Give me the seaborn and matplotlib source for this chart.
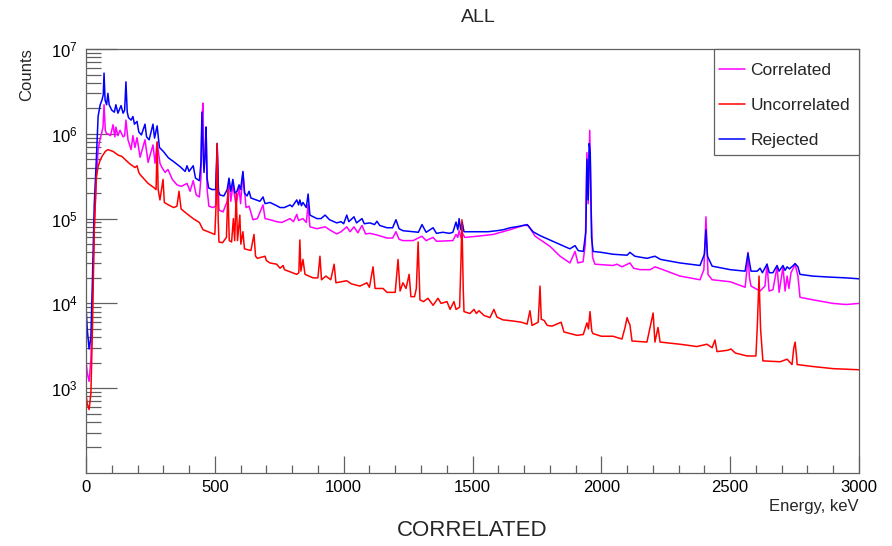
import numpy as np
import pandas as pd
import matplotlib
matplotlib.use("Agg")
import matplotlib.pyplot as plt
import seaborn as sns
from matplotlib.patches import Rectangle
from matplotlib.ticker import FixedLocator, MultipleLocator, LogLocator, NullFormatter

# ---------------- data ----------------
rej_energy = [0, 5, 12, 19, 25, 32, 40, 47, 55, 62, 67, 70, 74, 80, 85, 90, 100, 110, 116, 124,
              136, 144, 150, 155, 160, 165, 175, 182, 188, 198, 205, 215, 229, 235, 245, 260, 266,
              276, 285, 300, 320, 340, 365, 385, 392, 400, 416, 425, 440, 446, 450, 455, 458, 463,
              466, 470, 476, 490, 503, 509, 514, 520, 535, 548, 555, 562, 570, 578, 586, 594, 600,
              609, 615, 625, 633, 640, 660, 675, 687, 695, 714, 740, 753, 770, 792, 800, 818, 825,
              830, 836, 842, 855, 862, 869, 896, 912, 928, 945, 973, 990, 1000, 1012, 1020, 1040,
              1050, 1071, 1080, 1102, 1120, 1129, 1140, 1168, 1190, 1203, 1215, 1230, 1269, 1290,
              1304, 1320, 1347, 1360, 1385, 1410, 1424, 1436, 1443, 1448, 1454, 1460, 1467, 1480,
              1520, 1560, 1595, 1620, 1646, 1680, 1712, 1735, 1762, 1812, 1850, 1878, 1898, 1910,
              1930, 1940, 1944, 1949, 1953, 1957, 1962, 1968, 2000, 2045, 2100, 2111, 2130, 2177,
              2208, 2230, 2305, 2383, 2400, 2406, 2412, 2430, 2500, 2558, 2569, 2581, 2605, 2616,
              2625, 2643, 2652, 2666, 2682, 2690, 2705, 2713, 2721, 2730, 2745, 2752, 2763, 2771,
              2820, 2876, 2950, 3000]
rej_counts = [9.1e3, 4.9e3, 2.9e3, 4.0e3, 1.9e4, 1.45e5, 4.9e5, 1.6e6, 2.2e6, 2.5e6, 2.9e6, 5.2e6,
              2.5e6, 2.2e6, 3.0e6, 2.2e6, 1.9e6, 1.8e6, 2.2e6, 1.75e6, 2.15e6, 1.75e6, 1.9e6, 4.1e6,
              1.8e6, 1.55e6, 1.45e6, 1.6e6, 1.3e6, 1.4e6, 1.05e6, 9.7e5, 1.3e6, 9.2e5, 8.5e5, 1.3e6,
              8.9e5, 1.24e6, 6.9e5, 6.2e5, 5.2e5, 4.7e5, 4.1e5, 3.6e5, 4.2e5, 3.6e5, 4.2e5, 3.0e5,
              2.8e5, 4.5e5, 1.8e6, 5.5e5, 3.5e5, 6.0e5, 1.2e6, 3.0e5, 2.3e5, 2.2e5, 2.2e5, 7.7e5,
              2.1e5, 1.9e5, 1.85e5, 2.2e5, 3.0e5, 2.1e5, 2.9e5, 2.0e5, 2.1e5, 2.5e5, 2.2e5, 3.6e5,
              2.0e5, 1.85e5, 2.1e5, 1.75e5, 1.66e5, 1.6e5, 1.8e5, 1.5e5, 1.55e5, 1.42e5, 1.35e5,
              1.35e5, 1.45e5, 1.38e5, 1.66e5, 1.45e5, 1.66e5, 1.42e5, 1.55e5, 1.35e5, 1.95e5, 1.1e5,
              1.0e5, 1.0e5, 1.1e5, 9.7e4, 8.9e4, 9.2e4, 8.7e4, 1.1e5, 9.2e4, 1.05e5, 8.9e4, 1.0e5,
              8.7e4, 8.9e4, 8.5e4, 9.3e4, 8.3e4, 7.8e4, 7.8e4, 9.7e4, 7.6e4, 7.2e4, 7.0e4, 6.9e4,
              8.5e4, 6.9e4, 7.8e4, 6.7e4, 6.9e4, 6.7e4, 6.9e4, 9.1e4, 7.4e4, 1.0e5, 7.4e4, 9.1e4,
              7.0e4, 7.0e4, 7.0e4, 7.0e4, 7.2e4, 7.4e4, 7.8e4, 8.1e4, 8.5e4, 7.0e4, 6.3e4, 5.4e4,
              4.8e4, 4.4e4, 4.8e4, 4.2e4, 4.1e4, 7.0e4, 5.0e5, 1.66e5, 7.7e5, 6.0e5, 6.0e4, 4.1e4,
              4.0e4, 3.8e4, 3.7e4, 4.0e4, 3.6e4, 3.4e4, 3.6e4, 3.3e4, 3.0e4, 2.8e4, 3.8e4, 7.4e4,
              3.6e4, 2.75e4, 2.5e4, 2.4e4, 3.9e4, 2.4e4, 2.4e4, 2.6e4, 2.3e4, 2.9e4, 2.3e4, 2.3e4,
              2.8e4, 2.4e4, 2.8e4, 2.45e4, 2.7e4, 2.55e4, 2.8e4, 2.95e4, 2.7e4, 2.2e4, 2.1e4,
              2.05e4, 2.0e4, 1.95e4]

cor_energy = [0, 5, 12, 19, 25, 32, 40, 47, 54, 60, 66, 70, 75, 80, 85, 95, 105, 112, 116, 124,
              132, 144, 150, 155, 163, 175, 182, 190, 198, 210, 229, 241, 260, 268, 276, 287, 295,
              307, 318, 335, 353, 370, 392, 404, 416, 428, 440, 446, 450, 454, 458, 463, 466, 470,
              477, 493, 503, 509, 516, 532, 548, 555, 562, 570, 582, 594, 600, 609, 621, 633, 648,
              665, 687, 695, 714, 740, 760, 792, 805, 818, 825, 842, 855, 862, 869, 896, 928, 945,
              973, 990, 1012, 1025, 1040, 1055, 1071, 1085, 1102, 1130, 1168, 1190, 1203, 1215,
              1230, 1269, 1304, 1320, 1347, 1360, 1424, 1436, 1443, 1448, 1455, 1460, 1470, 1520,
              1580, 1646, 1697, 1716, 1743, 1801, 1840, 1878, 1898, 1909, 1929, 1938, 1944, 1949,
              1955, 1960, 1966, 1975, 2045, 2061, 2080, 2111, 2125, 2150, 2190, 2208, 2239, 2305,
              2383, 2398, 2406, 2414, 2430, 2500, 2558, 2565, 2569, 2575, 2581, 2616, 2635, 2643,
              2651, 2666, 2682, 2690, 2705, 2713, 2721, 2728, 2736, 2745, 2752, 2763, 2771, 2822,
              2899, 2950, 3000]
cor_counts = [2.1e3, 1.5e3, 1.2e3, 2.2e3, 1.0e4, 7.4e4, 2.9e5, 6.5e5, 8.5e5, 1.0e6, 1.2e6, 2.2e6,
              1.1e6, 1.0e6, 1.0e6, 9.5e5, 1.28e6, 9.2e5, 1.2e6, 9.5e5, 1.1e6, 9.2e5, 9.5e5, 1.45e6,
              8.5e5, 6.5e5, 9.5e5, 6.9e5, 9.0e5, 5.3e5, 8.5e5, 4.6e5, 7.4e5, 4.5e5, 8.0e5, 4.5e5,
              4.0e5, 3.5e5, 3.8e5, 2.9e5, 2.5e5, 2.4e5, 2.6e5, 2.1e5, 2.8e5, 1.9e5, 1.8e5, 3.0e5,
              1.5e6, 2.3e6, 4.0e5, 6.0e5, 1.2e6, 2.2e5, 1.4e5, 1.35e5, 1.4e5, 7.4e5, 1.26e5, 1.2e5,
              1.6e5, 2.9e5, 1.6e5, 2.5e5, 1.45e5, 2.3e5, 1.5e5, 3.5e5, 1.35e5, 1.4e5, 9.7e4, 1.0e5,
              1.45e5, 1.0e5, 9.7e4, 9.2e4, 9.0e4, 1.0e5, 9.2e4, 1.12e5, 9.5e4, 1.0e5, 9.0e4, 1.45e5,
              8.0e4, 7.6e4, 8.0e4, 7.4e4, 6.6e4, 7.0e4, 8.0e4, 7.0e4, 8.0e4, 6.8e4, 8.3e4, 6.6e4,
              6.7e4, 6.4e4, 5.9e4, 5.9e4, 7.0e4, 5.7e4, 5.5e4, 5.5e4, 6.2e4, 5.5e4, 6.0e4, 5.4e4,
              5.5e4, 6.5e4, 6.0e4, 7.2e4, 6.0e4, 6.8e4, 6.0e4, 6.2e4, 6.5e4, 7.4e4, 8.3e4, 8.3e4,
              6.2e4, 4.7e4, 3.6e4, 3.0e4, 4.1e4, 3.0e4, 3.1e4, 5.0e4, 6.0e5, 1.5e5, 1.1e6, 1.5e5,
              3.5e4, 2.9e4, 2.8e4, 2.9e4, 2.7e4, 3.0e4, 2.6e4, 2.5e4, 2.5e4, 2.7e4, 2.5e4, 2.1e4,
              1.9e4, 2.5e4, 1.05e5, 2.2e4, 1.9e4, 1.8e4, 1.55e4, 2.5e4, 4.0e4, 2.0e4, 1.6e4, 1.4e4,
              1.6e4, 2.9e4, 1.4e4, 1.45e4, 2.7e4, 1.35e4, 2.7e4, 1.4e4, 2.1e4, 1.5e4, 2.3e4, 2.6e4,
              2.9e4, 2.1e4, 1.18e4, 1.1e4, 1.0e4, 9.7e3, 1.0e4]

unc_energy = [0, 5, 12, 19, 25, 32, 40, 47, 55, 62, 75, 85, 105, 125, 140, 151, 171, 190, 198, 205,
              210, 241, 265, 272, 276, 280, 287, 299, 304, 320, 340, 353, 361, 369, 390, 416, 440,
              454, 489, 500, 505, 509, 513, 516, 530, 545, 551, 556, 565, 572, 577, 583, 588, 597,
              601, 609, 615, 640, 652, 658, 665, 695, 700, 714, 740, 753, 765, 770, 818, 826, 830,
              834, 842, 850, 881, 900, 908, 914, 931, 950, 963, 970, 1012, 1030, 1063, 1090, 1100,
              1114, 1122, 1153, 1168, 1200, 1211, 1219, 1230, 1242, 1254, 1261, 1275, 1282, 1289,
              1296, 1310, 1327, 1347, 1366, 1378, 1401, 1413, 1428, 1436, 1450, 1455, 1459, 1464,
              1467, 1490, 1506, 1515, 1525, 1545, 1568, 1583, 1595, 1618, 1657, 1690, 1712, 1723,
              1731, 1755, 1762, 1767, 1778, 1790, 1809, 1844, 1855, 1906, 1930, 1944, 1950, 1956,
              1963, 1968, 2000, 2045, 2080, 2092, 2100, 2106, 2111, 2119, 2177, 2201, 2208, 2220,
              2228, 2305, 2371, 2410, 2430, 2441, 2449, 2490, 2503, 2520, 2565, 2600, 2606, 2612,
              2618, 2627, 2694, 2721, 2740, 2747, 2752, 2757, 2760, 2822, 2900, 3000]
unc_counts = [850, 650, 560, 870, 5.0e3, 7.4e4, 3.1e5, 4.1e5, 4.9e5, 5.4e5, 6.2e5, 6.5e5, 6.2e5,
              5.6e5, 5.4e5, 5.0e5, 4.4e5, 4.0e5, 4.2e5, 3.5e5, 3.3e5, 2.6e5, 2.3e5, 2.2e5, 8.0e5,
              2.2e5, 1.66e5, 2.9e5, 1.55e5, 1.45e5, 1.35e5, 1.4e5, 2.1e5, 1.3e5, 1.15e5, 1.0e5,
              9.0e4, 7.4e4, 6.7e4, 6.5e4, 1.5e5, 7.7e5, 1.0e5, 5.3e4, 5.2e4, 6.0e4, 2.2e5, 5.5e4,
              5.3e4, 1.0e5, 5.5e4, 2.0e5, 5.5e4, 1.1e5, 5.0e4, 7.0e4, 4.4e4, 4.2e4, 6.5e4, 3.6e4,
              3.4e4, 3.6e4, 3.2e4, 3.0e4, 2.9e4, 2.6e4, 2.8e4, 2.5e4, 2.2e4, 2.3e4, 5.6e4, 2.4e4,
              3.3e4, 2.2e4, 2.0e4, 2.0e4, 3.6e4, 1.9e4, 2.1e4, 1.9e4, 2.9e4, 1.75e4, 1.85e4, 1.7e4,
              1.6e4, 1.75e4, 1.55e4, 2.7e4, 1.5e4, 1.5e4, 1.35e4, 1.35e4, 3.3e4, 1.4e4, 1.75e4,
              1.5e4, 2.2e4, 1.2e4, 1.2e4, 1.5e4, 5.3e4, 1.1e4, 1.05e4, 1.15e4, 9.5e3, 1.15e4,
              1.0e4, 1.05e4, 8.5e3, 1.05e4, 8.5e3, 9.0e3, 3.0e4, 9.7e4, 1.5e4, 8.0e3, 7.6e3, 8.5e3,
              7.6e3, 8.2e3, 7.2e3, 6.8e3, 8.5e3, 6.9e3, 6.4e3, 6.2e3, 6.0e3, 5.7e3, 8.2e3, 5.5e3,
              6.0e3, 1.6e4, 6.5e3, 6.3e3, 5.5e3, 5.4e3, 6.0e3, 4.6e3, 4.2e3, 4.3e3, 5.9e3, 5.0e3,
              8.0e3, 4.7e3, 4.4e3, 4.1e3, 4.1e3, 3.8e3, 5.2e3, 6.8e3, 6.0e3, 5.6e3, 3.6e3, 3.5e3,
              7.7e3, 3.5e3, 5.2e3, 3.5e3, 3.3e3, 3.1e3, 3.3e3, 3.0e3, 3.7e3, 2.7e3, 2.8e3, 2.9e3,
              2.6e3, 2.4e3, 2.4e3, 6.0e3, 2.1e4, 5.0e3, 2.1e3, 2.05e3, 2.2e3, 1.9e3, 3.0e3, 3.5e3,
              2.5e3, 1.9e3, 1.8e3, 1.7e3, 1.65e3]

series_names = ["Correlated", "Uncorrelated", "Rejected"]
series_colors = ["#ff00ff", "#ff0000", "#0000ff"]
x_ticks = [0, 500, 1000, 1500, 2000, 2500, 3000]
y_ticks = [1e3, 1e4, 1e5, 1e6, 1e7]

# ---------------- build long table ----------------
df = pd.concat([
    pd.DataFrame({"Energy": cor_energy, "Counts": cor_counts, "Series": "Correlated"}),
    pd.DataFrame({"Energy": unc_energy, "Counts": unc_counts, "Series": "Uncorrelated"}),
    pd.DataFrame({"Energy": rej_energy, "Counts": rej_counts, "Series": "Rejected"}),
], ignore_index=True)

sns.set_style("white")
plt.rcParams["font.family"] = ["Liberation Sans", "DejaVu Sans"]
plt.rcParams["mathtext.fontset"] = "custom"
plt.rcParams["mathtext.rm"] = "Liberation Sans"
plt.rcParams["mathtext.it"] = "Liberation Sans"
plt.rcParams["mathtext.default"] = "regular"

fig = plt.figure(figsize=(8.92, 5.46), dpi=100)
ax = fig.add_axes([86 / 892, 1 - 473 / 546, 773 / 892, 424 / 546])

palette = dict(zip(series_names, series_colors))
draw_order = ["Correlated", "Rejected", "Uncorrelated"]
for name in draw_order:
    sub = df[df["Series"] == name]
    sns.lineplot(data=sub, x="Energy", y="Counts", color=palette[name], lw=1.1,
                 ax=ax, estimator=None, sort=False, label=name)

ax.set_yscale("log")
ax.set_xlim(0, 3000)
ax.set_ylim(1e2, 1e7)

frame_col = "#606060"
for s in ax.spines.values():
    s.set_color(frame_col)
    s.set_linewidth(0.9)

ax.xaxis.set_major_locator(FixedLocator(x_ticks))
ax.xaxis.set_minor_locator(MultipleLocator(100))
ax.set_xticklabels([str(t) for t in x_ticks])
ax.yaxis.set_major_locator(FixedLocator(y_ticks))
ax.yaxis.set_minor_locator(LogLocator(base=10, subs=np.arange(2, 10)))
ax.yaxis.set_minor_formatter(NullFormatter())
ax.set_yticklabels([r"$10^{%d}$" % int(np.log10(t)) for t in y_ticks])

ax.tick_params(axis="both", which="both", direction="in", colors=frame_col,
               labelcolor="black", labelsize=12, top=False, right=False,
               bottom=True, left=True, width=0.9)
ax.tick_params(axis="y", which="major", length=22, pad=6)
ax.tick_params(axis="y", which="minor", length=11)
ax.tick_params(axis="x", which="major", length=12, pad=5)
ax.tick_params(axis="x", which="minor", length=6)

ax.set_xlabel("")
ax.set_ylabel("")
fig.text(27 / 892, 1 - 48 / 546, "Counts", rotation=90, ha="center", va="top", fontsize=12)
fig.text(859 / 892, 1 - 507 / 546, "Energy, keV", ha="right", va="center", fontsize=12)
fig.text(472 / 892, 1 - 531 / 546, "CORRELATED", ha="center", va="center", fontsize=16)
fig.text(478 / 892, 1 - 18 / 546, "ALL", ha="center", va="center", fontsize=14)

# legend box (frame drawn separately) and entries, in the reference order
ax.add_patch(Rectangle((628 / 773, 1 - 106 / 424), 145 / 773, 106 / 424,
                       transform=ax.transAxes, facecolor="white", edgecolor=frame_col,
                       linewidth=0.9, zorder=5, clip_on=False))
handles, labels = ax.get_legend_handles_labels()
hmap = dict(zip(labels, handles))
leg = ax.legend([hmap[n] for n in series_names], series_names,
                loc="upper left", bbox_to_anchor=((719 - 86) / 773, (473 - 63) / 424),
                borderaxespad=0, frameon=False, fontsize=12.5, handlelength=1.5,
                handletextpad=0.3, labelspacing=1.15, borderpad=0)
leg.set_zorder(6)

fig.savefig("out.png", dpi=100)
